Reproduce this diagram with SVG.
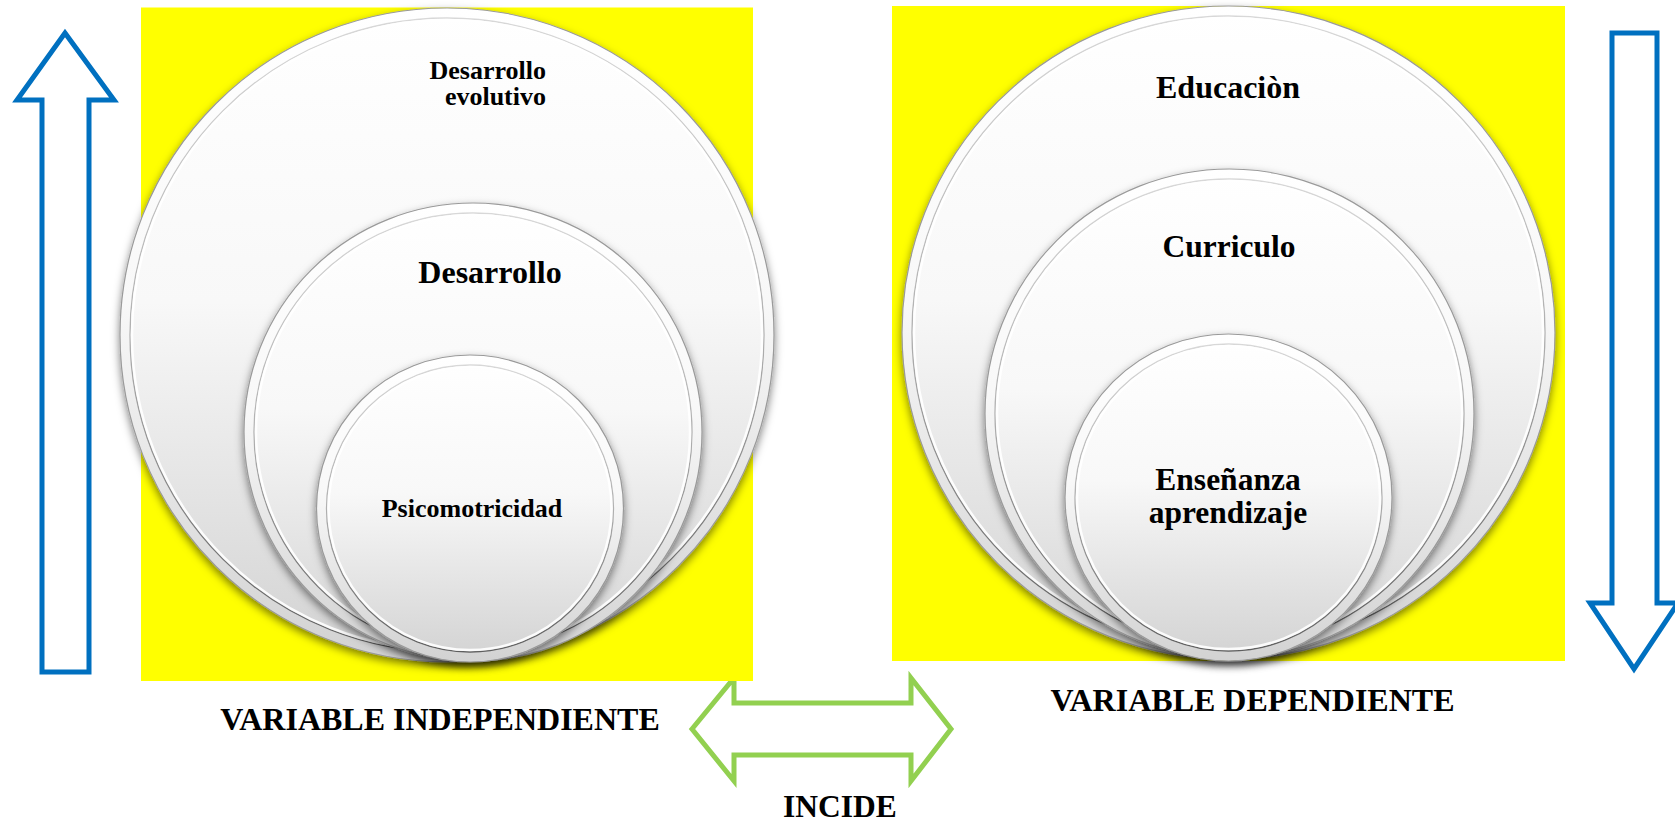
<svg xmlns="http://www.w3.org/2000/svg" width="1675" height="822" viewBox="0 0 1675 822">
  <style>
    .bg { fill: #FFFF00; }
    .disk { fill: url(#diskG); stroke: #9a9a9a; stroke-width: 1.2; filter: url(#sh); }
    .rim { fill: none; stroke: url(#rimG); stroke-width: 1.3; }
    .hl { fill: none; stroke: #ffffff; stroke-width: 2.5; opacity: 0.9; }
    .lbl { font-family: "Liberation Serif", "Times New Roman", serif; font-weight: bold; fill: #000; }
    .blue { fill: #ffffff; stroke: #0070C0; stroke-width: 5; stroke-linejoin: miter; }
    .green { fill: #ffffff; stroke: #92D050; stroke-width: 5; stroke-linejoin: miter; }
  </style>
  <defs>
    <linearGradient id="diskG" x1="0" y1="0" x2="0" y2="1">
      <stop offset="0" stop-color="#ffffff"/>
      <stop offset="0.45" stop-color="#f8f8f8"/>
      <stop offset="1" stop-color="#d2d2d2"/>
    </linearGradient>
    <linearGradient id="rimG" x1="0" y1="0" x2="0" y2="1">
      <stop offset="0" stop-color="#d8d8d8"/>
      <stop offset="0.5" stop-color="#b0b0b0"/>
      <stop offset="1" stop-color="#5e5e5e"/>
    </linearGradient>
    <filter id="sh" x="-10%" y="-10%" width="120%" height="125%">
      <feDropShadow dx="0" dy="4" stdDeviation="4" flood-color="#000" flood-opacity="0.5"/>
    </filter>
  </defs>

  <rect width="1675" height="822" fill="#ffffff"/>

  <g id="connectors">
    <path id="incide-arrow" class="green" d="M692,729 L734,678 L734,703 L911,703 L911,678 L951,729 L911,781 L911,755 L734,755 L734,781 Z"/>
    <path id="arrow-up" class="blue" d="M65,33 L114,100 L89,100 L89,672 L42,672 L42,100 L17,100 Z"/>
    <path id="arrow-down" class="blue" d="M1612,33 L1657,33 L1657,603 L1678,603 L1634,669 L1590,603 L1612,603 Z"/>
  </g>

  <rect id="panel-left" class="bg" x="141" y="7.5" width="612" height="673.5"/>
  <rect id="panel-right" class="bg" x="892" y="6" width="673" height="655"/>

  <g id="node-desarrollo-evolutivo">
    <circle class="disk" cx="447" cy="335" r="327"/>
    <circle class="rim" cx="447" cy="335" r="317"/>
    <circle class="hl" cx="447" cy="335" r="315"/>
    <text class="lbl" font-size="26" text-anchor="end"><tspan x="546" y="79">Desarrollo</tspan><tspan x="546" y="105">evolutivo</tspan></text>
  </g>
  <g id="node-desarrollo">
    <circle class="disk" cx="473" cy="432" r="229"/>
    <circle class="rim" cx="473" cy="432" r="219"/>
    <circle class="hl" cx="473" cy="432" r="217"/>
    <text class="lbl" font-size="32" text-anchor="middle" x="490" y="283">Desarrollo</text>
  </g>
  <g id="node-psicomotricidad">
    <circle class="disk" cx="470" cy="508.5" r="153.5"/>
    <circle class="rim" cx="470" cy="508.5" r="143.5"/>
    <circle class="hl" cx="470" cy="508.5" r="141.5"/>
    <text class="lbl" font-size="26" text-anchor="middle" x="472" y="517">Psicomotricidad</text>
  </g>

  <g id="node-educacion">
    <circle class="disk" cx="1228.5" cy="332.5" r="326.5"/>
    <circle class="rim" cx="1228.5" cy="332.5" r="316.5"/>
    <circle class="hl" cx="1228.5" cy="332.5" r="314.5"/>
    <text class="lbl" font-size="32" text-anchor="middle" x="1228" y="98">Educaciòn</text>
  </g>
  <g id="node-curriculo">
    <circle class="disk" cx="1229.5" cy="413.5" r="244.5"/>
    <circle class="rim" cx="1229.5" cy="413.5" r="234.5"/>
    <circle class="hl" cx="1229.5" cy="413.5" r="232.5"/>
    <text class="lbl" font-size="31.5" text-anchor="middle" x="1229" y="257">Curriculo</text>
  </g>
  <g id="node-ensenanza">
    <circle class="disk" cx="1228.5" cy="497.5" r="163.5"/>
    <circle class="rim" cx="1228.5" cy="497.5" r="153.5"/>
    <circle class="hl" cx="1228.5" cy="497.5" r="151.5"/>
    <text class="lbl" font-size="31.5" text-anchor="middle"><tspan x="1228" y="490">Enseñanza</tspan><tspan x="1228" y="523">aprendizaje</tspan></text>
  </g>

  <g id="labels">
    <text class="lbl" font-size="32" text-anchor="middle" x="440" y="730">VARIABLE INDEPENDIENTE</text>
    <text class="lbl" font-size="32" text-anchor="middle" x="1252.5" y="711">VARIABLE DEPENDIENTE</text>
    <text class="lbl" font-size="31.5" text-anchor="middle" x="840" y="817">INCIDE</text>
  </g>
</svg>
